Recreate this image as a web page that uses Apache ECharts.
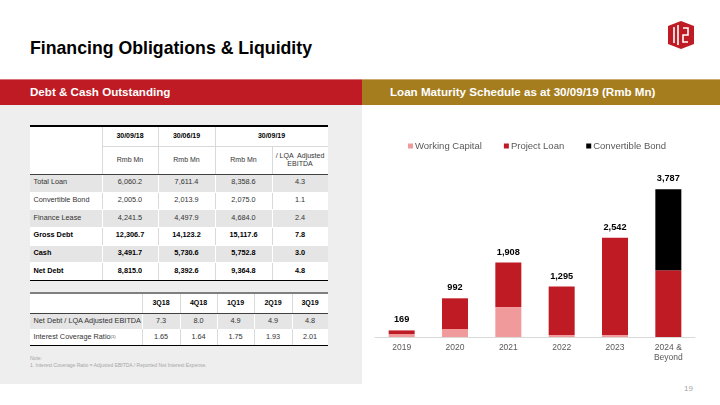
<!DOCTYPE html>
<html>
<head>
<meta charset="utf-8">
<script src="https://cdn.jsdelivr.net/npm/echarts@6/dist/echarts.min.js"></script>
<style>
  html, body { margin: 0; padding: 0; background: #fff; }
  #page { position: relative; width: 720px; height: 405px; overflow: hidden; font-family: "Liberation Sans", Arial, sans-serif; }
  .abs { position: absolute; box-sizing: border-box; }
  .cell { position: absolute; box-sizing: border-box; display: flex; align-items: center; justify-content: center; text-align: center; color: #333; line-height: 1.2; white-space: nowrap; }
  #chart { position: absolute; left: 0; top: 0; width: 720px; height: 405px; z-index: 5; }
</style>
</head>
<body>
<div id="page">
  <div id="chart"></div>
</div>
<script>
// ---------- chart data ----------
const categories = ['2019', '2020', '2021', '2022', '2023', '2024 &\nBeyond'];
const workingCapital = [75, 205, 768, 50, 50, 0];
const projectLoan = [94, 787, 1140, 1245, 2492, 1712];
const convertibleBond = [0, 0, 0, 0, 0, 2075];
const legendNames = ['Working Capital', 'Project Loan', 'Convertible Bond'];

// ---------- table data ----------
const debtDates = ['30/09/18', '30/06/19', '30/09/19'];
const debtUnits = ['Rmb Mn', 'Rmb Mn', 'Rmb Mn', '/ LQA&nbsp; Adjusted<br>EBITDA'];
const debtRowNames = ['Total Loan', 'Convertible Bond', 'Finance Lease', 'Gross Debt', 'Cash', 'Net Debt'];
const debt300918 = ['6,060.2', '2,005.0', '4,241.5', '12,306.7', '3,491.7', '8,815.0'];
const debt300619 = ['7,611.4', '2,013.9', '4,497.9', '14,123.2', '5,730.6', '8,392.6'];
const debt300919 = ['8,358.6', '2,075.0', '4,684.0', '15,117.6', '5,752.8', '9,364.8'];
const debtToEbitda = ['4.3', '1.1', '2.4', '7.8', '3.0', '4.8'];
const debtBoldRows = [false, false, false, true, true, true];

const quarters = ['3Q18', '4Q18', '1Q19', '2Q19', '3Q19'];
const ratioRowNames = ['Net Debt / LQA Adjusted EBITDA', 'Interest Coverage Ratio<sup style="font-size:4px;vertical-align:3px">(1)</sup>'];
const netDebtToEbitda = ['7.3', '8.0', '4.9', '4.9', '4.8'];
const interestCoverage = ['1.65', '1.64', '1.75', '1.93', '2.01'];

// ---------- slide frame ----------
const page = document.getElementById('page');
function box(x, y, w, h, style, html) {
  const d = document.createElement('div');
  d.className = 'abs';
  Object.assign(d.style, { left: x + 'px', top: y + 'px', width: w + 'px', height: h + 'px' }, style || {});
  if (html !== undefined) d.innerHTML = html;
  page.appendChild(d);
  return d;
}
function cell(x, y, w, h, html, o) {
  o = o || {};
  const d = document.createElement('div');
  d.className = 'cell';
  Object.assign(d.style, {
    left: x + 'px', top: y + 'px', width: w + 'px', height: h + 'px',
    background: o.bg || '#fff', fontSize: (o.size || 7.3) + 'px',
    fontWeight: o.bold ? 'bold' : 'normal', color: o.bold ? '#000' : '#333'
  });
  if (o.left) { d.style.justifyContent = 'flex-start'; d.style.paddingLeft = '3.5px'; }
  d.innerHTML = html;
  page.appendChild(d);
}
function hline(x1, x2, y, t, c) { box(x1, y, x2 - x1, t, { background: c, zIndex: 2 }); }
function vline(x, y1, y2, t, c) { box(x - t / 2, y1, t, y2 - y1, { background: c, zIndex: 2 }); }

// title
box(30, 36, 400, 24, { fontSize: '17.7px', fontWeight: 'bold', color: '#000', lineHeight: '24px', whiteSpace: 'nowrap' }, 'Financing Obligations &amp; Liquidity');
// logo
box(666, 21, 30, 28, {}, '<svg width="30" height="28" viewBox="0 0 30 28"><polygon points="15,0 28,5 28,23 15,28 2,23 2,5" fill="#BE1B24"/><path d="M8 6 V22 M12 4 V24 M17 7 H22 V14 H17 V21 H22" stroke="#fff" stroke-width="1.6" fill="none"/></svg>');
// section bars
box(0, 79, 362, 26, { background: '#BE1B24', borderTop: '1px solid #d9727a' });
box(362, 79, 358, 26, { background: '#A57D1F', borderTop: '1px solid #c9ac6c' });
box(30, 79, 320, 26, { color: '#fff', fontWeight: 'bold', fontSize: '11.6px', lineHeight: '26px', whiteSpace: 'nowrap' }, 'Debt &amp; Cash Outstanding');
box(390, 79, 320, 26, { color: '#fff', fontWeight: 'bold', fontSize: '11.6px', lineHeight: '26px', whiteSpace: 'nowrap' }, 'Loan Maturity Schedule as at 30/09/19 (Rmb Mn)');
// left panel background
box(0, 105, 362, 279, { background: '#EEEEEE' });
// page number
box(663, 382, 30, 14, { color: '#a6a6a6', fontSize: '8px', lineHeight: '14px', textAlign: 'right' }, '19');

// ---------- table 1 ----------
const GRAY = '#E5E5E5', SEP = '#D9D9D9';
const c1 = [30, 102, 158, 215, 272, 328];
const hy = [126, 146, 174];
const rh = (280 - 174) / 6;
cell(c1[0], hy[0], c1[1] - c1[0], hy[2] - hy[0], '');
cell(c1[1], hy[0], c1[2] - c1[1], hy[1] - hy[0], debtDates[0], { bold: true, size: 7 });
cell(c1[2], hy[0], c1[3] - c1[2], hy[1] - hy[0], debtDates[1], { bold: true, size: 7 });
cell(c1[3], hy[0], c1[5] - c1[3], hy[1] - hy[0], debtDates[2], { bold: true, size: 7 });
for (let j = 0; j < 4; j++) cell(c1[j + 1], hy[1], c1[j + 2] - c1[j + 1], hy[2] - hy[1], debtUnits[j], { size: 7 });
const debtCols = [debt300918, debt300619, debt300919, debtToEbitda];
for (let i = 0; i < debtRowNames.length; i++) {
  const y = hy[2] + i * rh, bg = i % 2 === 0 ? GRAY : '#fff', b = debtBoldRows[i];
  cell(c1[0], y, c1[1] - c1[0], rh, debtRowNames[i], { bg, bold: b, left: true });
  for (let j = 0; j < 4; j++) cell(c1[j + 1], y, c1[j + 2] - c1[j + 1], rh, debtCols[j][i], { bg, bold: b });
  for (let j = 1; j < 5; j++) vline(c1[j], y, y + rh, 1, i % 2 === 0 ? '#fff' : SEP);
  hline(c1[0], c1[5], y, 1, '#fff');
}
hline(c1[1], c1[5], hy[1], 1, SEP);
[1, 2, 3].forEach(j => vline(c1[j], hy[0], hy[2], 1, SEP));
vline(c1[4], hy[1], hy[2], 1, SEP);
hline(c1[0], c1[5], 125, 2, '#000');
hline(c1[0], c1[5], 173.5, 1, '#404040');
hline(c1[0], c1[5], 279.5, 1.6, '#000');

// ---------- table 2 ----------
const c2 = [30, 142, 180, 217, 254, 292, 328];
const ry = [294, 313, 329, 345];
cell(c2[0], ry[0], c2[1] - c2[0], ry[1] - ry[0], '');
for (let j = 0; j < 5; j++) cell(c2[j + 1], ry[0], c2[j + 2] - c2[j + 1], ry[1] - ry[0], quarters[j], { bold: true, size: 7 });
const ratioRows = [netDebtToEbitda, interestCoverage];
for (let i = 0; i < 2; i++) {
  const y = ry[i + 1], h = ry[i + 2] - ry[i + 1], bg = i === 0 ? GRAY : '#fff';
  cell(c2[0], y, c2[1] - c2[0], h, ratioRowNames[i], { bg, left: true });
  for (let j = 0; j < 5; j++) cell(c2[j + 1], y, c2[j + 2] - c2[j + 1], h, ratioRows[i][j], { bg });
  for (let j = 1; j < 6; j++) vline(c2[j], y, y + h, 1, i === 0 ? '#fff' : SEP);
}
for (let j = 1; j < 6; j++) vline(c2[j], ry[0], ry[1], 1, SEP);
hline(c2[0], c2[6], 292, 2.4, '#7F7F7F');
hline(c2[0], c2[6], 312.5, 1, '#404040');
hline(c2[0], c2[6], 344.5, 1.6, '#000');

// note
box(30, 355, 320, 14, { color: '#a6a6a6', fontSize: '5px', lineHeight: '6.5px', whiteSpace: 'nowrap' },
  'Note:<br>1. Interest Coverage Ratio = Adjusted EBITDA / Reported Net Interest Expense.');

// ---------- chart ----------
const totals = categories.map((_, i) => workingCapital[i] + projectLoan[i] + convertibleBond[i]);
const chart = echarts.init(document.getElementById('chart'), null, { renderer: 'canvas' });
chart.setOption({
  backgroundColor: 'transparent',
  animation: false,
  textStyle: { fontFamily: '"Liberation Sans", Arial, sans-serif' },
  legend: {
    data: legendNames,
    left: 403, top: 136,
    icon: 'rect', itemWidth: 5, itemHeight: 5, itemGap: 22,
    textStyle: { color: '#595959', fontSize: 9.5, padding: [0, 0, 0, -3] }
  },
  grid: { left: 375, right: 25, top: 181, bottom: 68 },
  xAxis: {
    type: 'category', data: categories,
    axisLine: { lineStyle: { color: '#D9D9D9', width: 1 } },
    axisTick: { show: false },
    axisLabel: { color: '#595959', fontSize: 8.5, margin: 6, lineHeight: 9.5, interval: 0 }
  },
  yAxis: { type: 'value', min: 0, max: 4000, show: false, splitLine: { show: false } },
  series: [
    { name: legendNames[0], type: 'bar', stack: 'a', data: workingCapital, barWidth: 26, itemStyle: { color: '#F19A9C' } },
    { name: legendNames[1], type: 'bar', stack: 'a', data: projectLoan, barWidth: 26, itemStyle: { color: '#BE1B24' } },
    { name: legendNames[2], type: 'bar', stack: 'a', data: convertibleBond, barWidth: 26, itemStyle: { color: '#000000' } },
    { name: 'Total', type: 'bar', stack: 'a', data: totals.map(() => 0), barWidth: 26,
      itemStyle: { color: 'transparent' },
      label: { show: true, position: 'top', distance: 6, color: '#000', fontWeight: 'bold', fontSize: 9.2,
        formatter: p => totals[p.dataIndex].toLocaleString('en-US') } }
  ]
});
</script>
</body>
</html>
